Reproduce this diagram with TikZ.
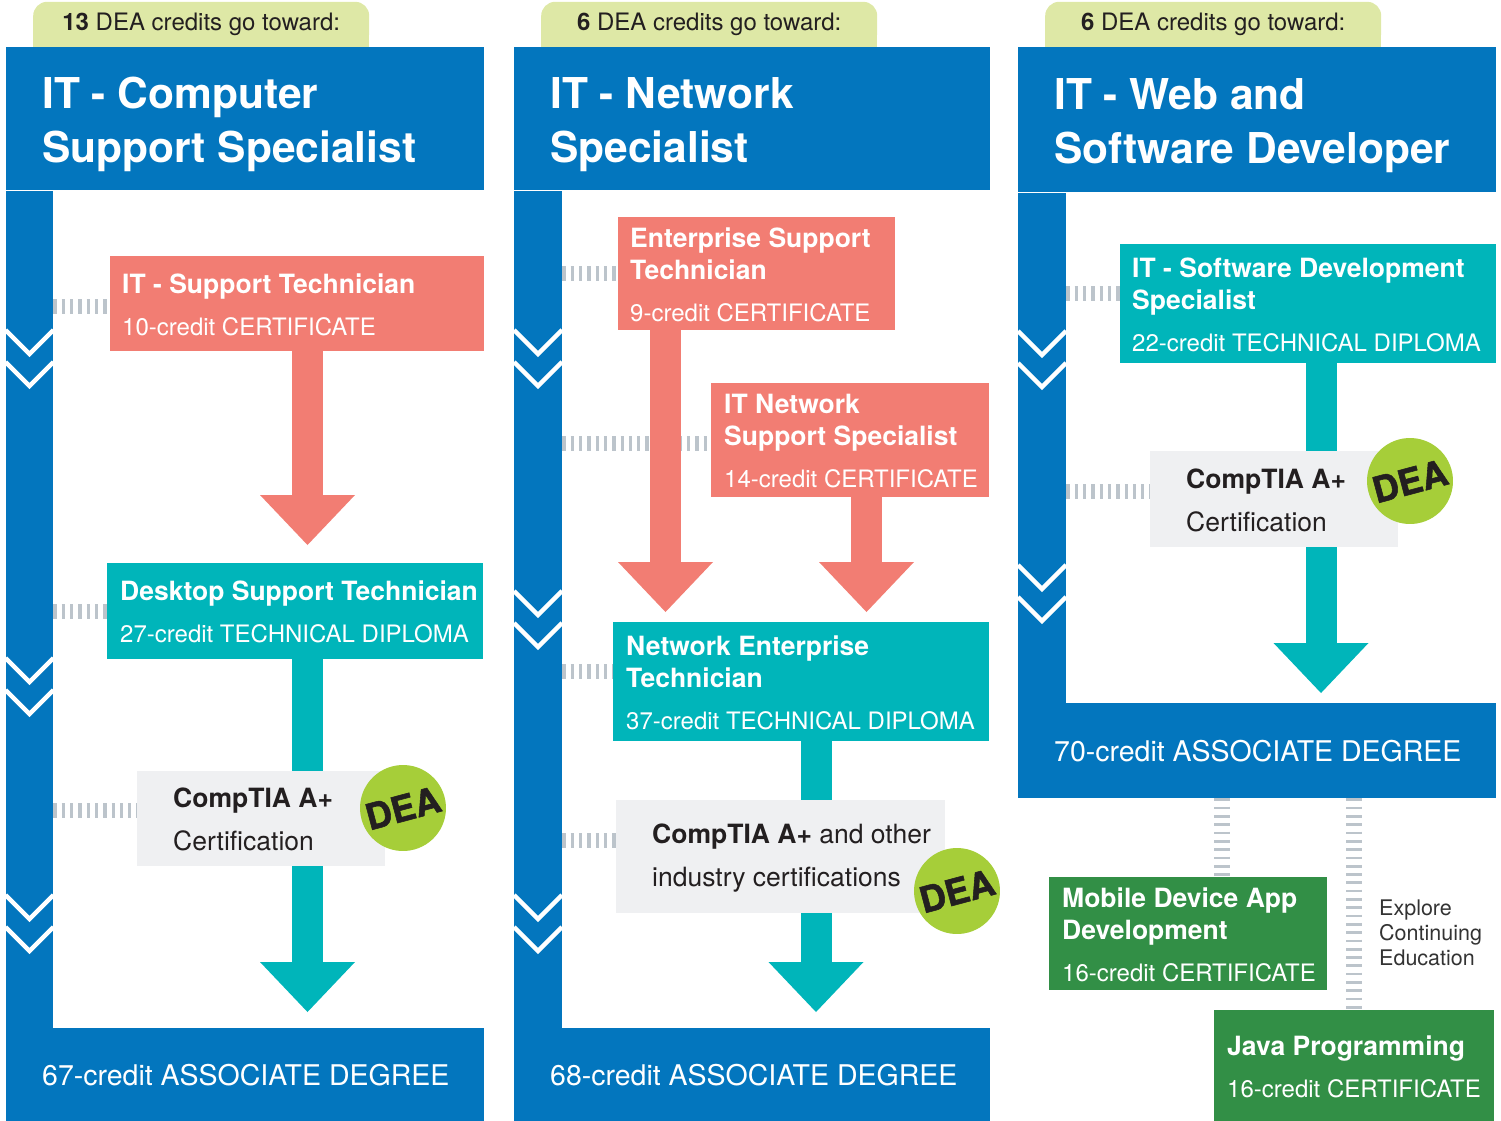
\documentclass[tikz,border=0pt]{standalone}
\usepackage{fontspec}
\setmainfont{TeX Gyre Heros}
\newfontfamily\deafam{TeX Gyre Heros}[BoldFeatures={FakeBold=1.5}]
\usetikzlibrary{positioning, arrows.meta, backgrounds}

\definecolor{itblue}{RGB}{3,118,190}
\definecolor{salmon}{RGB}{242,125,115}
\definecolor{tealbox}{RGB}{0,181,186}
\definecolor{certgrey}{RGB}{239,240,242}
\definecolor{tabgreen}{RGB}{222,232,166}
\definecolor{deagreen}{RGB}{166,206,57}
\definecolor{hatchgrey}{RGB}{188,196,203}
\definecolor{javagreen}{RGB}{50,143,70}
\definecolor{ink}{RGB}{35,31,32}
\definecolor{notegrey}{RGB}{51,51,51}

\newcommand{\headfont}{\fontsize{42.5}{54}\selectfont\bfseries}
\newcommand{\cardfont}{\fontsize{26.5}{32}\selectfont\bfseries}
\newcommand{\subl}{\fontsize{24}{32}\selectfont\mdseries}
\newcommand{\tabfont}{\fontsize{24}{28}\selectfont}
\newcommand{\degfont}{\fontsize{28.5}{32}\selectfont}
\newcommand{\deafont}{\deafam\fontsize{36}{40}\selectfont\bfseries}
\newcommand{\notefont}{\fontsize{21.5}{25}\selectfont}

\begin{document}
\begin{tikzpicture}[x=1pt, y=-1pt, node distance=0pt,
  blk/.style={fill=itblue, inner sep=0pt, anchor=north west},
  card/.style={fill=#1, inner sep=0pt, anchor=north west},
  txt/.style={inner sep=0pt, align=left, text=white, font=\cardfont, yshift=-1pt},
  headtxt/.style={inner sep=0pt, align=left, text=white, font=\headfont, yshift=-6pt},
  degtxt/.style={inner sep=0pt, text=white, font=\degfont},
  certtxt/.style={inner sep=0pt, align=left, text=ink, font=\cardfont, yshift=-1pt},
  tab/.style={fill=tabgreen, rounded corners=14pt, minimum width=336pt, minimum height=45pt, inner sep=0pt, text=ink, font=\tabfont},
  dea/.style={circle, fill=deagreen, minimum size=86pt, inner sep=0pt, rotate=15, text=ink, font=\deafont},
  note/.style={inner sep=0pt, align=left, text=notegrey, font=\notefont},
  flow/.style={draw=#1, line width=31pt, -{Triangle[width=95pt, length=50pt, line width=0pt]}},
  hatch/.style={draw=hatchgrey, line width=15pt, dash pattern=on 3.3pt off 5pt},
  ladder/.style={draw=hatchgrey, line width=16pt, dash pattern=on 2.7pt off 5.6pt},
  chev/.style={draw=white, line width=4.5pt}
]
\useasboundingbox (0,0) rectangle (1501,1121);

\node[blk, minimum width=478pt, minimum height=143pt] (head1) at (6,47) {};
\node[headtxt, right=36pt of head1.west] (head1-t) {IT - Computer\\Support Specialist};
\node[tab, above right=0pt and 27pt of head1.north west] (tab1) {\textbf{13} DEA credits go toward:};
\node[blk, minimum width=47pt, minimum height=838pt, below right=0pt and 0pt of head1.south west] (spine1) {};
\node[blk, minimum width=478pt, minimum height=93pt] (deg1) at (6,1028) {};
\node[degtxt, right=36pt of deg1.west] (deg1-t) {67-credit ASSOCIATE DEGREE};

\node[card=salmon, minimum width=374pt, minimum height=95pt] (st1) at (110,256) {};
\node[txt, right=12pt of st1.west] (st1-t) {IT - Support Technician\\[10pt]\subl 10-credit CERTIFICATE};
\node[card=tealbox, minimum width=376pt, minimum height=96pt] (dst1) at (107,563) {};
\node[txt, right=13pt of dst1.west] (dst1-t) {Desktop Support Technician\\[10pt]\subl 27-credit TECHNICAL DIPLOMA};
\node[card=certgrey, minimum width=248pt, minimum height=95pt] (cert1) at (137,771) {};
\node[certtxt, right=36pt of cert1.west] (cert1-t) {CompTIA A+\\[11pt]\mdseries Certification};
\node[dea] (dea1) at (403,808) {DEA};

\node[blk, minimum width=476pt, minimum height=143pt] (head2) at (514,47) {};
\node[headtxt, right=36pt of head2.west] (head2-t) {IT - Network\\Specialist};
\node[tab, above right=0pt and 27pt of head2.north west] (tab2) {\textbf{6} DEA credits go toward:};
\node[blk, minimum width=48pt, minimum height=838pt, below right=0pt and 0pt of head2.south west] (spine2) {};
\node[blk, minimum width=476pt, minimum height=93pt] (deg2) at (514,1028) {};
\node[degtxt, right=36pt of deg2.west] (deg2-t) {68-credit ASSOCIATE DEGREE};

\node[card=salmon, minimum width=277pt, minimum height=113pt] (est) at (618,217) {};
\node[txt, right=12pt of est.west] (est-t) {Enterprise Support\\Technician\\[10pt]\subl 9-credit CERTIFICATE};
\node[card=salmon, minimum width=278pt, minimum height=114pt] (nss) at (711,383) {};
\node[txt, right=13pt of nss.west] (nss-t) {IT Network\\Support Specialist\\[10pt]\subl 14-credit CERTIFICATE};
\node[card=tealbox, minimum width=376pt, minimum height=119pt] (net) at (613,622) {};
\node[txt, right=13pt of net.west] (net-t) {Network Enterprise\\Technician\\[10pt]\subl 37-credit TECHNICAL DIPLOMA};
\node[card=certgrey, minimum width=329pt, minimum height=113pt] (cert2) at (616,800) {};
\node[certtxt, right=36pt of cert2.west] (cert2-t) {CompTIA A+ {\mdseries and other}\\[11pt]\mdseries industry certifications};
\node[dea] (dea2) at (957,891) {DEA};

\node[blk, minimum width=478pt, minimum height=145pt] (head3) at (1018,47) {};
\node[headtxt, right=36pt of head3.west] (head3-t) {IT - Web and\\Software Developer};
\node[tab, above right=0pt and 27pt of head3.north west] (tab3) {\textbf{6} DEA credits go toward:};
\node[blk, minimum width=48pt, minimum height=511pt, below right=0pt and 0pt of head3.south west] (spine3) {};
\node[blk, minimum width=478pt, minimum height=95pt] (deg3) at (1018,703) {};
\node[degtxt, right=36pt of deg3.west] (deg3-t) {70-credit ASSOCIATE DEGREE};

\node[card=tealbox, minimum width=376pt, minimum height=119pt] (sds) at (1120,244) {};
\node[txt, right=12pt of sds.west] (sds-t) {IT - Software Development\\Specialist\\[10pt]\subl 22-credit TECHNICAL DIPLOMA};
\node[card=certgrey, minimum width=248pt, minimum height=96pt] (cert3) at (1150,451) {};
\node[certtxt, right=36pt of cert3.west] (cert3-t) {CompTIA A+\\[11pt]\mdseries Certification};
\node[dea] (dea3) at (1410,481) {DEA};

\node[card=javagreen, minimum width=278pt, minimum height=113pt] (mob) at (1049,877) {};
\node[txt, right=13pt of mob.west] (mob-t) {Mobile Device App\\Development\\[10pt]\subl 16-credit CERTIFICATE};
\node[card=javagreen, minimum width=280pt, minimum height=111pt] (java) at (1214,1010) {};
\node[txt, right=13pt of java.west] (java-t) {Java Programming\\[10pt]\subl 16-credit CERTIFICATE};
\node[note, anchor=west] (explore) at (1379,933) {Explore\\Continuing\\Education};

\foreach \cx/\ys in {29.5/{354,682,919}, 538/{354,615,919}, 1042/{355,589}}
  \foreach \y in \ys
    \foreach \d in {0,32}
      \draw[chev] ({\cx-24},{\y+\d-24}) -- ({\cx},{\y+\d}) -- ({\cx+24},{\y+\d-24});

\coordinate (a1) at (307.5,0);
\coordinate (a2) at (665.5,0);
\coordinate (a3) at (866.5,0);
\coordinate (a4) at (816,0);
\coordinate (a5) at (1321,0);
\coordinate (v1) at (1222,0);
\coordinate (v2) at (1354,0);

\begin{scope}[on background layer]
  \fill[tabgreen] (tab1.west) rectangle (tab1.south east);
  \fill[tabgreen] (tab2.west) rectangle (tab2.south east);
  \fill[tabgreen] (tab3.west) rectangle (tab3.south east);

  \draw[hatch] ([yshift=-2.5pt]st1.west -| spine1.east) -- ([yshift=-2.5pt]st1.west);
  \draw[hatch] (dst1.west -| spine1.east) -- (dst1.west);
  \draw[hatch] ([yshift=8pt]cert1.west -| spine1.east) -- ([yshift=8pt]cert1.west);
  \draw[hatch] (est.west -| spine2.east) -- (est.west);
  \draw[hatch] ([yshift=-3pt]nss.west -| spine2.east) -- ([yshift=-3pt]nss.west);
  \draw[hatch] ([yshift=10.5pt]net.west -| spine2.east) -- ([yshift=10.5pt]net.west);
  \draw[hatch] ([yshift=16.5pt]cert2.west -| spine2.east) -- ([yshift=16.5pt]cert2.west);
  \draw[hatch] ([yshift=10.5pt]sds.west -| spine3.east) -- ([yshift=10.5pt]sds.west);
  \draw[hatch] ([yshift=8pt]cert3.west -| spine3.east) -- ([yshift=8pt]cert3.west);
  \draw[ladder] (deg3.south -| v1) -- (mob.north -| v1);
  \draw[ladder] (deg3.south -| v2) -- (java.north -| v2);

  \draw[flow=salmon, shorten >=18pt] (st1.south -| a1) -- (dst1.north -| a1);
  \draw[flow=tealbox, shorten >=16pt] (dst1.south -| a1) -- (deg1.north -| a1);
  \draw[flow=salmon, shorten >=10pt] (est.south -| a2) -- (net.north -| a2);
  \draw[flow=salmon, shorten >=10pt] (nss.south -| a3) -- (net.north -| a3);
  \draw[flow=tealbox, shorten >=16pt] (net.south -| a4) -- (deg2.north -| a4);
  \draw[flow=tealbox, shorten >=10pt] (sds.south -| a5) -- (deg3.north -| a5);
\end{scope}
\end{tikzpicture}
\end{document}
